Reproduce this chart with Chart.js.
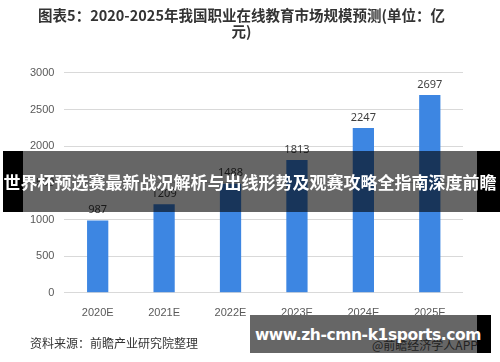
<!DOCTYPE html>
<html>
<head>
<meta charset="utf-8">
<script src="https://cdn.jsdelivr.net/npm/chart.js@4.4.1/dist/chart.umd.min.js"></script>
<style>
  html, body { margin: 0; padding: 0; background: #fff; }
  #wrap { position: relative; width: 500px; height: 362px; overflow: hidden; font-family: "Noto Sans CJK SC", "Noto Sans", sans-serif; }
  #chart { position: absolute; left: 0; top: 0; }
  .side { position: absolute; background: #000; }
  .banner-mid { position: absolute; left: 23px; top: 151px; width: 454px; height: 61px; background: rgba(0,0,0,0.6); }
  .banner-text { position: absolute; left: 0; top: 151px; width: 500px; height: 61px; line-height: 61px; text-align: center; color: #fff; font-weight: bold; font-size: 17px; white-space: nowrap; letter-spacing: 0px; }
  .source { position: absolute; left: 30px; top: 334px; font-size: 12px; color: #333; }
  .badge-mid { position: absolute; left: 250px; top: 315px; width: 227px; height: 38px; background: #666; }
  .app { position: absolute; left: 372px; top: 336px; font-size: 12px; color: #222; white-space: nowrap; }
  .url { position: absolute; left: 254px; top: 318px; width: 228px; height: 34px; line-height: 34px; text-align: center; color: #fff; font-weight: bold; font-size: 15.5px; white-space: nowrap; font-family: "DejaVu Sans", sans-serif; letter-spacing: -0.4px; }
</style>
</head>
<body>
<div id="wrap">
  <canvas id="chart" width="500" height="362"></canvas>
  <div class="side" style="left:3px;top:151px;width:20px;height:61px"></div>
  <div class="side" style="left:477px;top:151px;width:23px;height:61px"></div>
  <div class="banner-mid"></div>
  <div class="banner-text">世界杯预选赛最新战况解析与出线形势及观赛攻略全指南深度前瞻</div>
  <div class="source">资料来源：前瞻产业研究院整理</div>
  <div class="side" style="left:477px;top:315px;width:14px;height:38px"></div>
  <div class="badge-mid"></div>
  <div class="app">@前瞻经济学人APP</div>
  <div class="url">www.zh-cmn-k1sports.com</div>
</div>
<script>
const years = ['2020E', '2021E', '2022E', '2023E', '2024E', '2025E'];
const marketSize = [987, 1209, 1488, 1813, 2247, 2697];
const titleLines = ['图表5：2020-2025年我国职业在线教育市场规模预测(单位：亿', '元)'];

// value labels above each bar
const barLabels = {
    id: 'barLabels',
    afterDatasetsDraw(chart) {
        const ctx = chart.ctx;
        const meta = chart.getDatasetMeta(0);
        ctx.save();
        ctx.font = '11px "Noto Sans", sans-serif';
        ctx.fillStyle = '#404040';
        ctx.textAlign = 'center';
        ctx.textBaseline = 'bottom';
        meta.data.forEach((bar, i) => {
            ctx.fillText(marketSize[i], bar.x, bar.y - 5);
        });
        ctx.restore();
    }
};

const ctx = document.getElementById('chart').getContext('2d');
new Chart(ctx, {
    type: 'bar',
    data: {
        labels: years,
        datasets: [{
            data: marketSize,
            backgroundColor: '#3d86e2',
            categoryPercentage: 1,
            barPercentage: 0.32
        }]
    },
    options: {
        responsive: false,
        animation: false,
        layout: { padding: { left: 20, right: 37, top: 0, bottom: 36 } },
        scales: {
            x: {
                grid: { display: false },
                border: { display: false },
                ticks: { color: '#595959', font: { size: 11 }, padding: 6 }
            },
            y: {
                min: 0,
                max: 3000,
                ticks: {
                    stepSize: 500,
                    color: '#595959',
                    font: { size: 11 },
                    padding: 10,
                    callback: (v) => String(v)
                },
                grid: { color: '#d9d9d9', drawTicks: false },
                border: { display: false }
            }
        },
        plugins: {
            legend: { display: false },
            tooltip: { enabled: false },
            title: {
                display: true,
                text: titleLines,
                color: '#333',
                font: { size: 14.5, weight: 'bold', family: '"Noto Sans CJK SC", sans-serif', lineHeight: 1.1 },
                padding: { top: 8, bottom: 33 }
            }
        }
    },
    plugins: [barLabels]
});
</script>
</body>
</html>
